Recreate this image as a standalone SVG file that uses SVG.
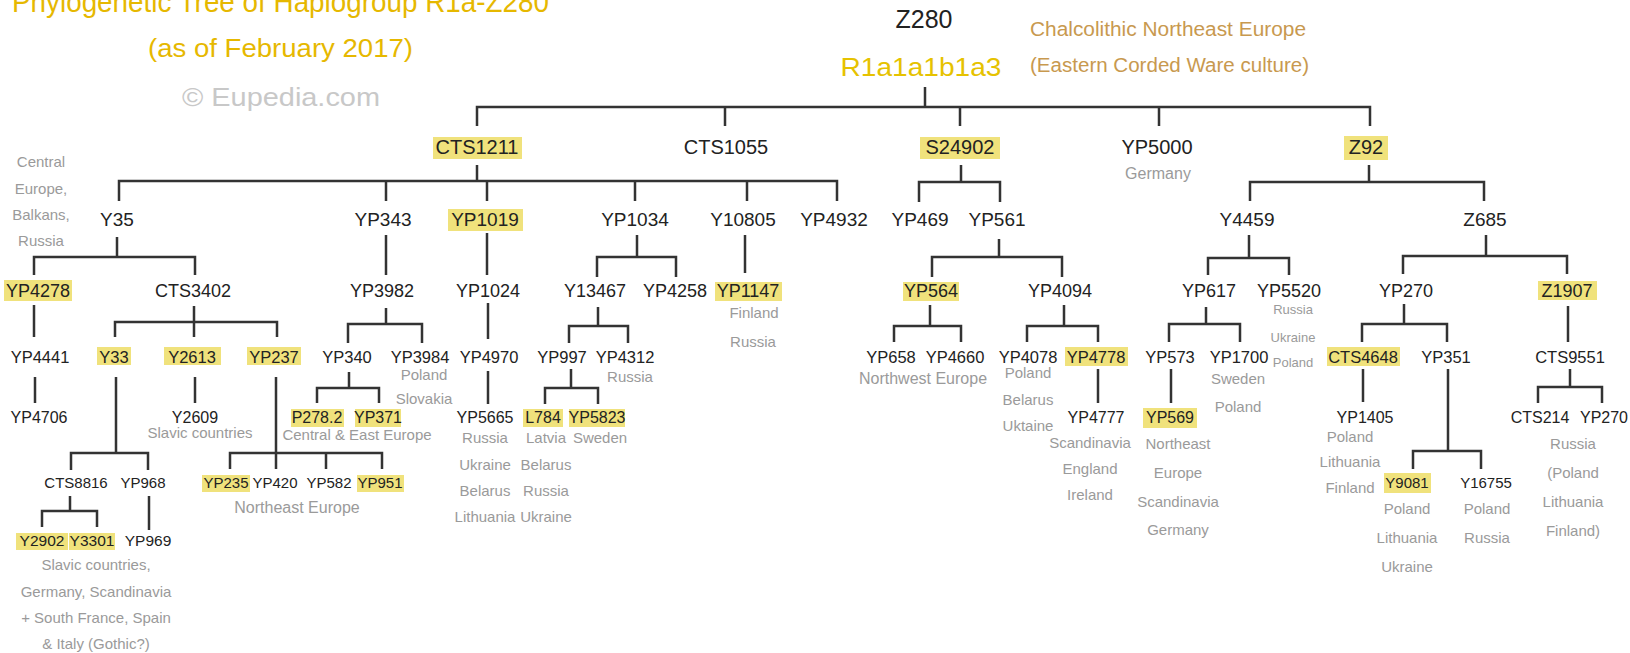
<svg xmlns="http://www.w3.org/2000/svg" width="1630" height="653" viewBox="0 0 1630 653">
<style>
.n{font-family:"Liberation Sans",Arial,sans-serif;font-size:18px;fill:#222;text-anchor:middle}
.l1{font-size:20px}.l2{font-size:19px}.l3{font-size:18px}.l4{font-size:16.5px}.l5{font-size:16px}.l6{font-size:15px}.l7{font-size:15.5px}
.g{font-family:"Liberation Sans",Arial,sans-serif;font-size:15px;fill:#9a9a9a;text-anchor:middle}
.g16{font-size:16px}
.s{font-family:"Liberation Sans",Arial,sans-serif;font-size:13px;fill:#9a9a9a;text-anchor:middle}
.hl{fill:#f0e27c}
.t{font-family:"Liberation Sans",Arial,sans-serif;fill:#e6b800}
.c{font-family:"Liberation Sans",Arial,sans-serif;font-size:20px;fill:#c8994f}
#links path{fill:none;stroke:#333;stroke-width:2.5}
</style>
<rect width="1630" height="653" fill="#fff"/>
<g id="title">
<text class="t" x="12" y="12" font-size="30" textLength="537" lengthAdjust="spacingAndGlyphs">Phylogenetic Tree of Haplogroup R1a-Z280</text>
<text class="t" x="148" y="57" font-size="25" textLength="265" lengthAdjust="spacingAndGlyphs">(as of February 2017)</text>
<text x="182" y="106" font-family="Liberation Sans,Arial,sans-serif" font-size="25" fill="#c8c8c8" textLength="198" lengthAdjust="spacingAndGlyphs">© Eupedia.com</text>
</g>
<g id="culture">
<text class="c" x="1030" y="36" textLength="276" lengthAdjust="spacingAndGlyphs">Chalcolithic Northeast Europe</text>
<text class="c" x="1030" y="72" textLength="279" lengthAdjust="spacingAndGlyphs">(Eastern Corded Ware culture)</text>
</g>
<g id="links">
<path d="M925 87V107M477 126V107H1370V126M725 107V126M960 107V126M1159 107V126"/>
<path d="M477 165V181M119 201V181H837V201M386 181V201M487 181V201M635 181V201M747 181V201"/>
<path d="M961 165V182M919 202V182H1000V202"/>
<path d="M1369 165V182M1250 201V182H1484V201"/>
<path d="M117 237V257M34 275V257H195V275"/>
<path d="M386 235V275"/>
<path d="M487 233V275"/>
<path d="M637 235V257M597 277V257H676V277"/>
<path d="M745 235V273"/>
<path d="M999 239V257M932 277V257H1062V277"/>
<path d="M1249 235V258M1208 275V258H1289V275"/>
<path d="M1486 235V256M1403 274V256H1567V274"/>
<path d="M34 305V337"/>
<path d="M194 306V337M115 337V322H277V337"/>
<path d="M386 308V324M348 343V324H422V343"/>
<path d="M488 303V339"/>
<path d="M598 307V326M569 343V326H628V343"/>
<path d="M930 305V326M894 342V326H961V342"/>
<path d="M1064 305V326M1027 342V326H1098V342"/>
<path d="M1206 307V324M1169 342V324H1240V342"/>
<path d="M1404 304V324M1362 342V324H1447V342"/>
<path d="M1568 306V342"/>
<path d="M35 377V403"/>
<path d="M116 377V453M71 470V453H148V470"/>
<path d="M195 377V403"/>
<path d="M276 377V469M230 469V453H382V469M326 453V469"/>
<path d="M349 372V388M317 403V388H379V403"/>
<path d="M488 371V404"/>
<path d="M571 369V388M545 404V388H598V404"/>
<path d="M1098 369V403"/>
<path d="M1171 369V403"/>
<path d="M1363 369V402"/>
<path d="M1448 369V451M1413 469V451H1481V469"/>
<path d="M1570 369V387M1538 403V387H1602V403"/>
<path d="M70 496V511M42 527V511H97V527"/>
<path d="M149 496V530"/>
</g>
<g id="Z280"><text class="n" x="924" y="28" style="font-size:25px">Z280</text>
<text class="t" x="921" y="76" font-size="26" text-anchor="middle" style="fill:#e6c200" textLength="161" lengthAdjust="spacingAndGlyphs">R1a1a1b1a3</text></g>
<g id="CTS1211"><rect class="hl" x="433" y="137" width="89" height="22"/><text class="n l1" x="477" y="154">CTS1211</text></g>
<g id="CTS1055"><text class="n l1" x="726" y="154">CTS1055</text></g>
<g id="S24902"><rect class="hl" x="920" y="137" width="80" height="22"/><text class="n l1" x="960" y="154">S24902</text></g>
<g id="YP5000"><text class="n l1" x="1157" y="154">YP5000</text><text class="g g16" x="1158" y="179">Germany</text></g>
<g id="Z92"><rect class="hl" x="1344" y="136" width="44" height="24"/><text class="n l1" x="1366" y="154">Z92</text></g>
<g id="Y35"><text class="n l2" x="117" y="226">Y35</text>
<text class="g" x="41" y="167">Central</text><text class="g" x="41" y="194">Europe,</text><text class="g" x="41" y="220">Balkans,</text><text class="g" x="41" y="246">Russia</text></g>
<g id="YP343"><text class="n l2" x="383" y="226">YP343</text></g>
<g id="YP1019"><rect class="hl" x="448" y="209" width="75" height="22"/><text class="n l2" x="485" y="226">YP1019</text></g>
<g id="YP1034"><text class="n l2" x="635" y="226">YP1034</text></g>
<g id="Y10805"><text class="n l2" x="743" y="226">Y10805</text></g>
<g id="YP4932"><text class="n l2" x="834" y="226">YP4932</text></g>
<g id="YP469"><text class="n l2" x="920" y="226">YP469</text></g>
<g id="YP561"><text class="n l2" x="997" y="226">YP561</text></g>
<g id="Y4459"><text class="n l2" x="1247" y="226">Y4459</text></g>
<g id="Z685"><text class="n l2" x="1485" y="226">Z685</text></g>
<g id="YP4278"><rect class="hl" x="4" y="280" width="68" height="21"/><text class="n l3" x="38" y="297">YP4278</text></g>
<g id="CTS3402"><text class="n l3" x="193" y="297">CTS3402</text></g>
<g id="YP3982"><text class="n l3" x="382" y="297">YP3982</text></g>
<g id="YP1024"><text class="n l3" x="488" y="297">YP1024</text></g>
<g id="Y13467"><text class="n l3" x="595" y="297">Y13467</text></g>
<g id="YP4258"><text class="n l3" x="675" y="297">YP4258</text></g>
<g id="YP1147"><rect class="hl" x="715" y="282" width="67" height="19"/><text class="n l3" x="748" y="297">YP1147</text><text class="g" x="754" y="318">Finland</text><text class="g" x="753" y="347">Russia</text></g>
<g id="YP564"><rect class="hl" x="903" y="282" width="56" height="19"/><text class="n l3" x="931" y="297">YP564</text></g>
<g id="YP4094"><text class="n l3" x="1060" y="297">YP4094</text></g>
<g id="YP617"><text class="n l3" x="1209" y="297">YP617</text></g>
<g id="YP5520"><text class="n l3" x="1289" y="297">YP5520</text><text class="s" x="1293" y="314">Russia</text><text class="s" x="1293" y="342">Ukraine</text><text class="s" x="1293" y="367">Poland</text></g>
<g id="YP270"><text class="n l3" x="1406" y="297">YP270</text></g>
<g id="Z1907"><rect class="hl" x="1538" y="281" width="59" height="19"/><text class="n l3" x="1567" y="297">Z1907</text></g>
<g id="YP4441"><text class="n l4" x="40" y="363">YP4441</text></g>
<g id="Y33"><rect class="hl" x="97" y="347" width="34" height="18"/><text class="n l4" x="114" y="363">Y33</text></g>
<g id="Y2613"><rect class="hl" x="164" y="347" width="57" height="18"/><text class="n l4" x="192" y="363">Y2613</text></g>
<g id="YP237"><rect class="hl" x="247" y="347" width="54" height="18"/><text class="n l4" x="274" y="363">YP237</text></g>
<g id="YP340"><text class="n l4" x="347" y="363">YP340</text></g>
<g id="YP3984"><text class="n l4" x="420" y="363">YP3984</text><text class="g" x="424" y="380">Poland</text><text class="g" x="424" y="404">Slovakia</text></g>
<g id="YP4970"><text class="n l4" x="489" y="363">YP4970</text></g>
<g id="YP997"><text class="n l4" x="562" y="363">YP997</text></g>
<g id="YP4312"><text class="n l4" x="625" y="363">YP4312</text><text class="g" x="630" y="382">Russia</text></g>
<g id="YP658"><text class="n l4" x="891" y="363">YP658</text></g>
<g id="YP4660"><text class="n l4" x="955" y="363">YP4660</text><text class="g g16" x="923" y="384">Northwest Europe</text></g>
<g id="YP4078"><text class="n l4" x="1028" y="363">YP4078</text><text class="g" x="1028" y="378">Poland</text><text class="g" x="1028" y="405">Belarus</text><text class="g" x="1028" y="431">Uktaine</text></g>
<g id="YP4778"><rect class="hl" x="1065" y="347" width="63" height="19"/><text class="n l4" x="1096" y="363">YP4778</text></g>
<g id="YP573"><text class="n l4" x="1170" y="363">YP573</text></g>
<g id="YP1700"><text class="n l4" x="1239" y="363">YP1700</text><text class="g" x="1238" y="384">Sweden</text><text class="g" x="1238" y="412">Poland</text></g>
<g id="CTS4648"><rect class="hl" x="1327" y="347" width="73" height="19"/><text class="n l4" x="1363" y="363">CTS4648</text></g>
<g id="YP351"><text class="n l4" x="1446" y="363">YP351</text></g>
<g id="CTS9551"><text class="n l4" x="1570" y="363">CTS9551</text></g>
<g id="YP4706"><text class="n l5" x="39" y="423">YP4706</text></g>
<g id="Y2609"><text class="n l5" x="195" y="423">Y2609</text><text class="g" x="200" y="438">Slavic countries</text></g>
<g id="P278.2"><rect class="hl" x="291" y="409" width="53" height="18"/><text class="n l5" x="317" y="423">P278.2</text></g>
<g id="YP371"><rect class="hl" x="355" y="409" width="46" height="18"/><text class="n l5" x="378" y="423">YP371</text><text class="g" x="357" y="440">Central &amp; East Europe</text></g>
<g id="YP5665"><text class="n l5" x="485" y="423">YP5665</text><text class="g" x="485" y="443">Russia</text><text class="g" x="485" y="470">Ukraine</text><text class="g" x="485" y="496">Belarus</text><text class="g" x="485" y="522">Lithuania</text></g>
<g id="L784"><rect class="hl" x="523" y="409" width="40" height="18"/><text class="n l5" x="543" y="423">L784</text><text class="g" x="546" y="443">Latvia</text><text class="g" x="546" y="470">Belarus</text><text class="g" x="546" y="496">Russia</text><text class="g" x="546" y="522">Ukraine</text></g>
<g id="YP5823"><rect class="hl" x="569" y="409" width="56" height="18"/><text class="n l5" x="597" y="423">YP5823</text><text class="g" x="600" y="443">Sweden</text></g>
<g id="YP4777"><text class="n l5" x="1096" y="423">YP4777</text><text class="g" x="1090" y="448">Scandinavia</text><text class="g" x="1090" y="474">England</text><text class="g" x="1090" y="500">Ireland</text></g>
<g id="YP569"><rect class="hl" x="1143" y="408" width="54" height="20"/><text class="n l5" x="1170" y="423">YP569</text><text class="g" x="1178" y="449">Northeast</text><text class="g" x="1178" y="478">Europe</text><text class="g" x="1178" y="507">Scandinavia</text><text class="g" x="1178" y="535">Germany</text></g>
<g id="YP1405"><text class="n l5" x="1365" y="423">YP1405</text><text class="g" x="1350" y="442">Poland</text><text class="g" x="1350" y="467">Lithuania</text><text class="g" x="1350" y="493">Finland</text></g>
<g id="CTS214"><text class="n l5" x="1540" y="423">CTS214</text></g>
<g id="YP270b"><text class="n l5" x="1604" y="423">YP270</text><text class="g" x="1573" y="449">Russia</text><text class="g" x="1573" y="478">(Poland</text><text class="g" x="1573" y="507">Lithuania</text><text class="g" x="1573" y="536">Finland)</text></g>
<g id="CTS8816"><text class="n l6" x="76" y="488">CTS8816</text></g>
<g id="YP968"><text class="n l6" x="143" y="488">YP968</text></g>
<g id="YP235"><rect class="hl" x="202" y="475" width="48" height="17"/><text class="n l6" x="226" y="488">YP235</text></g>
<g id="YP420"><text class="n l6" x="275" y="488">YP420</text><text class="g g16" x="297" y="513">Northeast Europe</text></g>
<g id="YP582"><text class="n l6" x="329" y="488">YP582</text></g>
<g id="YP951"><rect class="hl" x="357" y="475" width="47" height="17"/><text class="n l6" x="380" y="488">YP951</text></g>
<g id="Y9081"><rect class="hl" x="1384" y="473" width="47" height="20"/><text class="n l6" x="1407" y="488">Y9081</text><text class="g" x="1407" y="514">Poland</text><text class="g" x="1407" y="543">Lithuania</text><text class="g" x="1407" y="572">Ukraine</text></g>
<g id="Y16755"><text class="n l6" x="1486" y="488">Y16755</text><text class="g" x="1487" y="514">Poland</text><text class="g" x="1487" y="543">Russia</text></g>
<g id="Y2902"><rect class="hl" x="16" y="533" width="52" height="17"/><text class="n l7" x="42" y="546">Y2902</text></g>
<g id="Y3301"><rect class="hl" x="69" y="533" width="46" height="17"/><text class="n l7" x="92" y="546">Y3301</text></g>
<g id="YP969"><text class="n l7" x="148" y="546">YP969</text>
<text class="g" x="96" y="570">Slavic countries,</text><text class="g" x="96" y="597">Germany, Scandinavia</text><text class="g" x="96" y="623">+ South France, Spain</text><text class="g" x="96" y="649">&amp; Italy (Gothic?)</text></g>
</svg>
